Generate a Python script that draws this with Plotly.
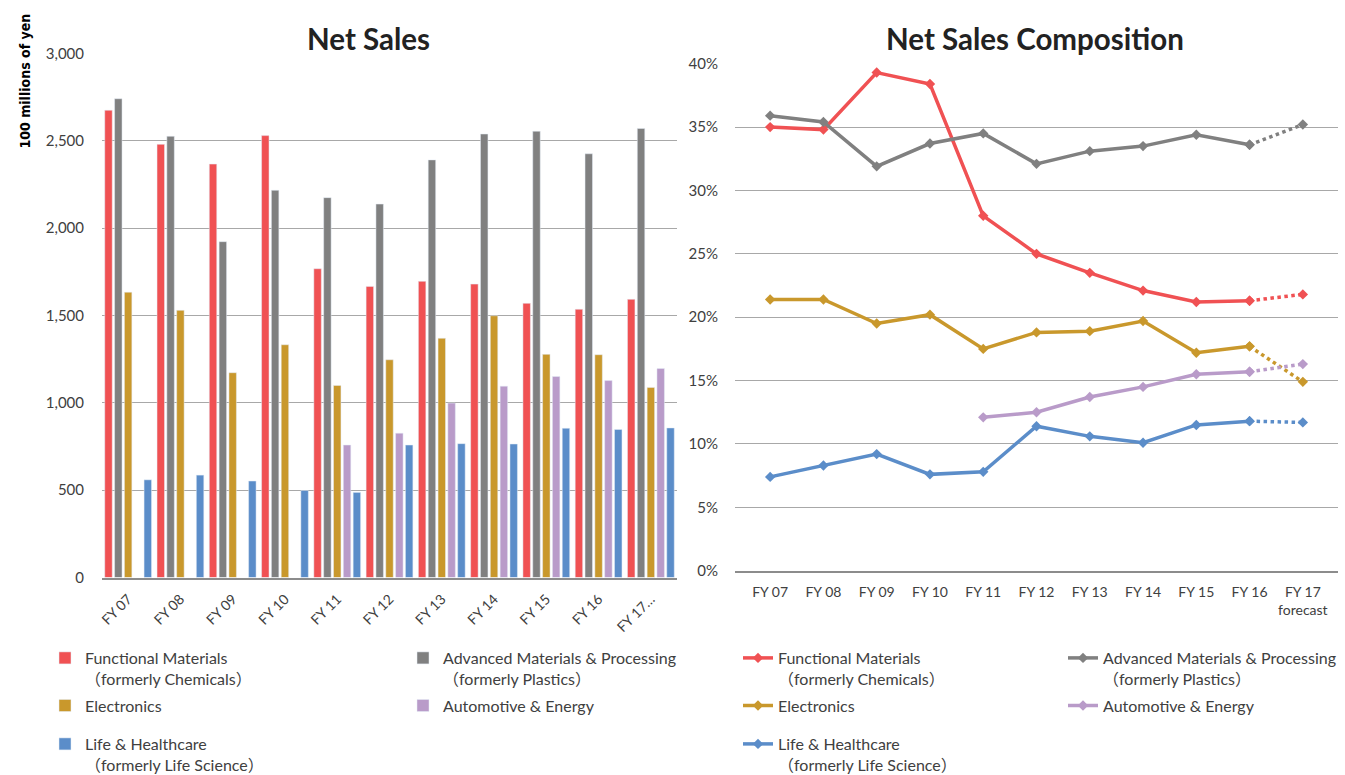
import plotly.graph_objects as go

# fiscal years on both charts
fiscal_years = ["FY 07", "FY 08", "FY 09", "FY 10", "FY 11", "FY 12",
                "FY 13", "FY 14", "FY 15", "FY 16", "FY 17"]
bar_tick_text = fiscal_years[:-1] + ["FY 17…"]
line_tick_text = fiscal_years[:-1] + ["FY 17<br>forecast"]

# net sales, 100 millions of yen
sales_functional = [2674, 2479, 2366, 2529, 1767, 1666, 1695, 1679, 1569, 1535, 1592]
sales_advanced = [2740, 2525, 1922, 2216, 2174, 2137, 2390, 2538, 2554, 2425, 2570]
sales_electronics = [1633, 1529, 1172, 1332, 1099, 1246, 1369, 1498, 1277, 1275, 1088]
sales_automotive = [None, None, None, None, 758, 826, 998, 1095, 1150, 1127, 1196]
sales_life = [559, 586, 552, 498, 487, 758, 766, 764, 854, 847, 856]

# net sales composition, %
comp_functional = [35.0, 34.8, 39.3, 38.4, 28.0, 25.0, 23.5, 22.1, 21.2, 21.3, 21.8]
comp_advanced = [35.9, 35.4, 31.9, 33.7, 34.5, 32.1, 33.1, 33.5, 34.4, 33.6, 35.2]
comp_electronics = [21.4, 21.4, 19.5, 20.2, 17.5, 18.8, 18.9, 19.7, 17.2, 17.7, 14.9]
comp_automotive = [None, None, None, None, 12.1, 12.5, 13.7, 14.5, 15.5, 15.7, 16.3]
comp_life = [7.4, 8.3, 9.2, 7.6, 7.8, 11.4, 10.6, 10.1, 11.5, 11.8, 11.7]

segment_names = [
    "Functional Materials<br>（formerly Chemicals）",
    "Advanced Materials & Processing<br>（formerly Plastics）",
    "Electronics",
    "Automotive & Energy",
    "Life & Healthcare<br>（formerly Life Science）",
]
segment_colors = ["#F05153", "#808080", "#C9982C", "#B99BC9", "#5B8DC9"]

W, H = 1345, 775
FONT = "Lato, 'Noto Sans CJK JP', sans-serif"
TXT = "#404040"
GRID = "#A8A8A8"


def fx(p):
    return p / W


def fy(p):
    return 1 - p / H


net_sales = [sales_functional, sales_advanced, sales_electronics, sales_automotive, sales_life]
composition = [comp_functional, comp_advanced, comp_electronics, comp_automotive, comp_life]
# which legend box each segment goes into (two columns, life & healthcare on its own row)
bar_legends = ["legend", "legend2", "legend", "legend2", "legend3"]
line_legends = ["legend4", "legend5", "legend4", "legend5", "legend6"]

fig = go.Figure()

for i, name in enumerate(segment_names):
    fig.add_trace(go.Bar(
        x=fiscal_years, y=net_sales[i], name=name,
        marker_color=segment_colors[i], legend=bar_legends[i],
        legendgroup="bar%d" % i, xaxis="x", yaxis="y",
    ))

for i, name in enumerate(segment_names):
    # actuals FY07-FY16 solid, forecast segment dotted
    fig.add_trace(go.Scatter(
        x=fiscal_years[:10], y=composition[i][:10], name=name,
        mode="lines+markers", line=dict(color=segment_colors[i], width=3.5),
        marker=dict(symbol="diamond", size=8), legend=line_legends[i],
        legendgroup="line%d" % i, xaxis="x2", yaxis="y2",
    ))
    fig.add_trace(go.Scatter(
        x=fiscal_years[9:], y=composition[i][9:], name=name,
        mode="lines+markers", line=dict(color=segment_colors[i], width=3.5, dash="dot"),
        marker=dict(symbol="diamond", size=8), showlegend=False,
        legendgroup="line%d" % i, xaxis="x2", yaxis="y2",
    ))

legend_style = dict(font=dict(family=FONT, size=16, color=TXT), bgcolor="rgba(0,0,0,0)",
                    xanchor="left", yanchor="top", valign="top", tracegroupgap=3,
                    itemclick="toggle")

fig.update_layout(
    width=W, height=H,
    margin=dict(l=0, r=0, t=0, b=0, autoexpand=False),
    paper_bgcolor="white", plot_bgcolor="white",
    font=dict(family=FONT, color=TXT),
    barmode="group", bargap=0.06, bargroupgap=0.24,
    xaxis=dict(domain=[fx(102), fx(677)], anchor="y", type="category",
               tickvals=fiscal_years, ticktext=bar_tick_text, tickangle=-45,
               tickfont=dict(size=14), showline=True, linecolor="#8C8C8C", linewidth=2,
               showgrid=False, ticks="", automargin=False, ticklabelstandoff=6),
    yaxis=dict(domain=[fy(577.5), fy(53.3)], anchor="x", range=[0, 3000], dtick=500,
               tickformat=",", tickfont=dict(size=15), gridcolor=GRID, gridwidth=1,
               zeroline=False, ticks="", automargin=False, ticklabelstandoff=17),
    xaxis2=dict(domain=[fx(735), fx(1338)], anchor="y2", type="category",
                tickvals=fiscal_years, ticktext=line_tick_text, tickangle=0,
                tickfont=dict(size=14), showline=True, linecolor="#8C8C8C", linewidth=2,
                showgrid=False, ticks="", automargin=False, ticklabelstandoff=7),
    yaxis2=dict(domain=[fy(570.7), fy(63.7)], anchor="x2", range=[0, 40], dtick=5,
                ticksuffix="%", tickfont=dict(size=15), gridcolor=GRID, gridwidth=1,
                zeroline=False, ticks="", automargin=False, ticklabelstandoff=16),
    legend=dict(x=fx(45), y=fy(641), **legend_style),
    legend2=dict(x=fx(403), y=fy(641), **legend_style),
    legend3=dict(x=fx(45), y=fy(727), **legend_style),
    legend4=dict(x=fx(738), y=fy(641), **legend_style),
    legend5=dict(x=fx(1063), y=fy(641), **legend_style),
    legend6=dict(x=fx(738), y=fy(727), **legend_style),
    annotations=[
        dict(text="<b>Net Sales</b>", x=fx(368), y=fy(38), xref="paper", yref="paper",
             showarrow=False, xanchor="center", yanchor="middle",
             font=dict(family=FONT, size=29.5, color="#222222")),
        dict(text="<b>Net Sales Composition</b>", x=fx(1035), y=fy(38), xref="paper",
             yref="paper", showarrow=False, xanchor="center", yanchor="middle",
             font=dict(family=FONT, size=29.5, color="#222222")),
        dict(text="<b>100 millions of yen</b>", x=fx(24), y=fy(12), xref="paper",
             yref="paper", showarrow=False, textangle=-90, xanchor="center",
             yanchor="top",
             font=dict(family="'Liberation Sans Narrow', 'DejaVu Sans Condensed', sans-serif",
                       size=14, color="black")),
    ],
)

fig.write_html("out.html", config={"displayModeBar": False},
               post_script="document.body.style.margin='0';")
